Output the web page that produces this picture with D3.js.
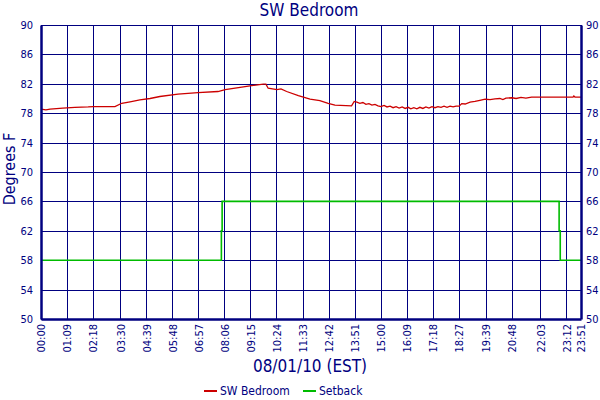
<!DOCTYPE html>
<html>
<head>
<meta charset="utf-8">
<script src="https://cdn.jsdelivr.net/npm/d3@7"></script>
<style>
  body { margin: 0; background: #fff; }
  svg { display: block; }
</style>
</head>
<body>
<div id="chart"></div>
<script>
const title = "SW Bedroom";
const xTitle = "08/01/10 (EST)";
const yTitle = "Degrees F";

const xTickLabels = [
  "00:00", "01:09", "02:18", "03:30", "04:39", "05:48", "06:57", "08:06",
  "09:15", "10:24", "11:33", "12:42", "13:51", "15:00", "16:09", "17:18",
  "18:27", "19:39", "20:48", "22:03", "23:12", "23:51"
];
const yTicks = [50, 54, 58, 62, 66, 70, 74, 78, 82, 86, 90];

// Room temperature.
const bedroomTemps = [
  ["00:00", 78.55], ["00:13", 78.45], ["00:24", 78.55], ["00:58", 78.7],
  ["01:30", 78.8], ["02:05", 78.85], ["02:18", 78.9], ["03:16", 78.9],
  ["03:34", 79.35], ["03:56", 79.55], ["04:22", 79.8], ["04:49", 80.0],
  ["05:15", 80.27], ["06:03", 80.6], ["06:56", 80.8], ["07:49", 80.95],
  ["08:08", 81.2], ["08:52", 81.55], ["09:18", 81.75], ["09:49", 81.95],
  ["09:56", 81.95], ["10:02", 81.4], ["10:25", 81.2], ["10:36", 81.3],
  ["10:51", 80.95], ["11:22", 80.4], ["11:53", 79.9], ["12:19", 79.7],
  ["12:41", 79.35], ["12:59", 79.1], ["13:43", 79.0], ["13:50", 79.6],
  ["13:57", 79.5], ["14:05", 79.35], ["14:13", 79.45], ["14:21", 79.2],
  ["14:29", 79.3], ["14:37", 79.1], ["14:45", 79.2], ["14:53", 79.0],
  ["15:01", 78.9], ["15:09", 79.05], ["15:17", 78.85], ["15:25", 78.95],
  ["15:33", 78.75], ["15:41", 78.9], ["15:49", 78.7], ["15:57", 78.85],
  ["16:05", 78.65], ["16:13", 78.8], ["16:20", 78.6], ["16:28", 78.75],
  ["16:36", 78.6], ["16:44", 78.8], ["16:52", 78.65], ["17:00", 78.85],
  ["17:08", 78.7], ["17:16", 78.9], ["17:24", 78.75], ["17:32", 78.9],
  ["17:40", 78.8], ["17:48", 78.95], ["17:56", 78.8], ["18:04", 78.95],
  ["18:12", 78.85], ["18:20", 78.95], ["18:28", 78.95], ["18:35", 79.3],
  ["18:44", 79.25], ["18:57", 79.5], ["19:10", 79.6], ["19:23", 79.75],
  ["19:37", 79.9], ["19:50", 79.85], ["20:03", 79.95], ["20:16", 80.0],
  ["20:24", 79.85], ["20:32", 80.05], ["20:48", 80.1], ["20:59", 80.0],
  ["21:12", 80.15], ["21:25", 80.05], ["21:40", 80.2], ["23:30", 80.2],
  ["23:32", 80.35], ["23:35", 80.2], ["23:51", 80.2]
];

// Thermostat setback.
const setbackTemps = [
  ["00:00", 58], ["07:58", 58], ["07:58", 62], ["08:00", 62], ["08:00", 66],
  ["22:53", 66], ["22:53", 62], ["22:56", 62], ["22:56", 58], ["23:51", 58]
];

const seriesNames = ["SW Bedroom", "Setback"];
const seriesColors = ["#cc0000", "#00bb00"];

const navy = "#000080";
const fontFamily = "'DejaVu Sans Condensed', 'DejaVu Sans', Verdana, sans-serif";
const width = 600;
const height = 400;
const margins = { top: 25, right: 19, bottom: 81, left: 41 };

function toMinutes(s) {
  const [h, m] = s.split(":").map(Number);
  return h * 60 + m;
}

const svg = d3.select("#chart")
  .append("svg")
    .attr("width", width)
    .attr("height", height);

const x = d3.scaleLinear()
  .domain([0, toMinutes("23:51")])
  .range([margins.left, width - margins.right]);

const y = d3.scaleLinear()
  .domain([50, 90])
  .range([height - margins.bottom, margins.top]);

const tickMinutes = xTickLabels.map(toMinutes);

// Grid
const grid = svg.append("g")
  .attr("stroke", navy)
  .attr("stroke-width", 1)
  .attr("shape-rendering", "crispEdges");

grid.selectAll(".hgrid")
  .data(yTicks)
  .enter()
  .append("line")
    .attr("x1", x.range()[0])
    .attr("x2", x.range()[1])
    .attr("y1", d => Math.round(y(d)) + 0.5)
    .attr("y2", d => Math.round(y(d)) + 0.5);

grid.selectAll(".vgrid")
  .data(tickMinutes)
  .enter()
  .append("line")
    .attr("x1", d => Math.round(x(d)) + 0.5)
    .attr("x2", d => Math.round(x(d)) + 0.5)
    .attr("y1", y.range()[1])
    .attr("y2", y.range()[0]);

// Series
const line = d3.line()
  .x(d => x(toMinutes(d[0])))
  .y(d => y(d[1]));

svg.append("path")
  .datum(setbackTemps)
  .attr("fill", "none")
  .attr("stroke", seriesColors[1])
  .attr("stroke-width", 1.6)
  .attr("d", line);

svg.append("path")
  .datum(bedroomTemps)
  .attr("fill", "none")
  .attr("stroke", seriesColors[0])
  .attr("stroke-width", 1.3)
  .attr("d", line);

// Axes
const leftAxis = d3.axisLeft(y).tickValues(yTicks).tickSize(0).tickPadding(8);
const rightAxis = d3.axisRight(y).tickValues(yTicks).tickSize(0).tickPadding(5);
const bottomAxis = d3.axisBottom(x)
  .tickValues(tickMinutes)
  .tickFormat((d, i) => xTickLabels[i])
  .tickSize(0)
  .tickPadding(5);

function styleAxis(g) {
  g.select(".domain").attr("stroke", navy).attr("stroke-width", 2.5);
  g.selectAll("text")
    .attr("fill", navy)
    .attr("font-family", fontFamily)
    .attr("font-size", "11px");
}

svg.append("g")
  .attr("transform", `translate(${margins.left}, 0)`)
  .call(leftAxis)
  .call(styleAxis);

svg.append("g")
  .attr("transform", `translate(${width - margins.right}, 0)`)
  .call(rightAxis)
  .call(styleAxis);

svg.append("g")
  .attr("transform", `translate(0, ${height - margins.bottom})`)
  .call(bottomAxis)
  .call(styleAxis)
  .selectAll("text")
    .attr("transform", "rotate(-90)")
    .attr("text-anchor", "end")
    .attr("x", -5)
    .attr("y", 0)
    .attr("dy", "0.35em");

// Titles
svg.append("text")
  .attr("x", 309)
  .attr("y", 16)
  .attr("text-anchor", "middle")
  .attr("fill", navy)
  .attr("font-family", fontFamily)
  .attr("font-size", "17px")
  .text(title);

svg.append("text")
  .attr("x", 310)
  .attr("y", 372)
  .attr("text-anchor", "middle")
  .attr("fill", navy)
  .attr("font-family", fontFamily)
  .attr("font-size", "17px")
  .text(xTitle);

svg.append("text")
  .attr("transform", "rotate(-90)")
  .attr("x", -169)
  .attr("y", 15)
  .attr("text-anchor", "middle")
  .attr("fill", navy)
  .attr("font-family", fontFamily)
  .attr("font-size", "16px")
  .text(yTitle);

// Legend
const legendX = [204, 303];
const legend = svg.selectAll(".legend")
  .data(seriesNames)
  .enter()
  .append("g")
    .attr("transform", (d, i) => `translate(${legendX[i]}, 391)`);

legend.append("line")
  .attr("x1", 0)
  .attr("x2", 13)
  .attr("stroke", (d, i) => seriesColors[i])
  .attr("stroke-width", 2);

legend.append("text")
  .attr("x", 16)
  .attr("y", 4)
  .attr("fill", navy)
  .attr("font-family", fontFamily)
  .attr("font-size", "12px")
  .text(d => d);
</script>
</body>
</html>
